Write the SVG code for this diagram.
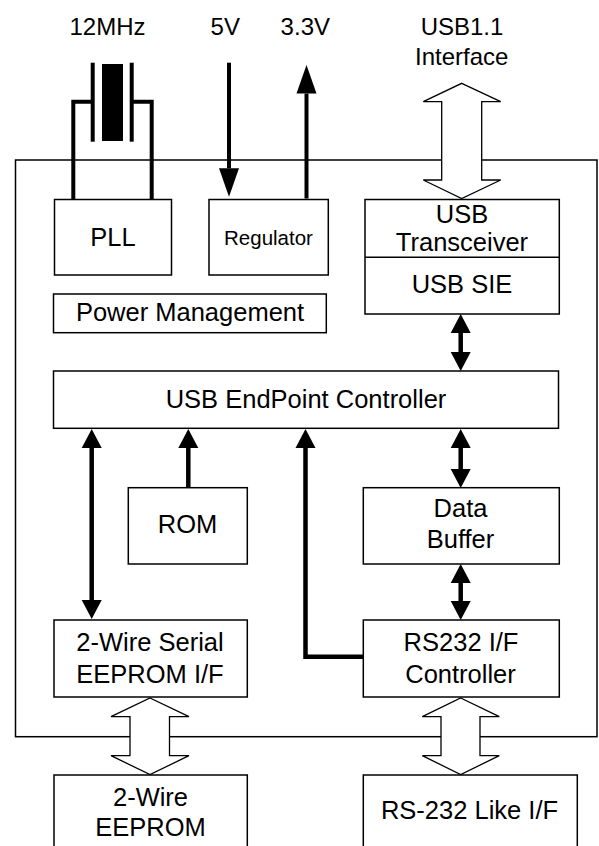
<svg xmlns="http://www.w3.org/2000/svg" width="599" height="846" viewBox="0 0 599 846">
<style>
  .box { fill: #fff; stroke: #000; stroke-width: 1.5; }
  .t { font-family: "Liberation Sans", Arial, sans-serif; font-size: 25.5px; text-anchor: middle; fill: #000; }
  .lbl { font-size: 24px; }
  .small { font-size: 20.5px; }
  .conn { fill: none; stroke: #000; stroke-width: 4.5; }
  .pwr { fill: none; stroke: #000; stroke-width: 4; }
  .hollow { fill: #fff; stroke: #000; stroke-width: 1.3; stroke-linejoin: miter; }
</style>
<defs>
  <marker id="ah" markerUnits="userSpaceOnUse" markerWidth="20" markerHeight="20" refX="0" refY="10" orient="auto-start-reverse" overflow="visible">
    <path d="M0,0 L19,10 L0,20 z" fill="#000"/>
  </marker>
  <marker id="ahBig" markerUnits="userSpaceOnUse" markerWidth="29" markerHeight="20" refX="0" refY="10" orient="auto-start-reverse" overflow="visible">
    <path d="M0,0 L28.5,10 L0,20 z" fill="#000"/>
  </marker>
</defs>
<rect width="599" height="846" fill="#fff"/>

<!-- chip frame -->
<rect id="frame" x="15.5" y="160" width="581.5" height="576.7" fill="none" stroke="#000" stroke-width="1.5"/>

<!-- top labels -->
<g id="lbl-12mhz"><text class="t lbl" x="107.5" y="35">12MHz</text></g>
<g id="lbl-5v"><text class="t lbl" x="225.3" y="35">5V</text></g>
<g id="lbl-33v"><text class="t lbl" x="305.3" y="35">3.3V</text></g>
<g id="lbl-usb11"><text class="t lbl" x="462" y="35">USB1.1</text><text class="t lbl" x="461.7" y="65">Interface</text></g>

<!-- crystal -->
<g id="crystal">
  <line class="pwr" x1="92.7" y1="62.7" x2="92.7" y2="141.7"/>
  <line class="pwr" x1="131.7" y1="62.7" x2="131.7" y2="141.7"/>
  <rect x="102" y="64" width="21" height="77" fill="#000"/>
  <polyline class="pwr" points="92.7,101.7 73.3,101.7 73.3,199.3"/>
  <polyline class="pwr" points="131.7,101.7 151.7,101.7 151.7,199.3"/>
</g>

<!-- nodes -->
<g id="pll"><rect class="box" x="54.5" y="199.5" width="117" height="75.5"/><text class="t" x="113" y="245.5">PLL</text></g>
<g id="regulator"><rect class="box" x="209" y="199.5" width="119.3" height="75.5"/><text class="t small" x="268.5" y="244.5">Regulator</text></g>
<g id="usb-transceiver-sie">
  <rect class="box" x="365" y="199.5" width="194.3" height="114.5"/>
  <line x1="365" y1="257.3" x2="559.3" y2="257.3" stroke="#000" stroke-width="1.5"/>
  <text class="t" x="462" y="222.7">USB</text>
  <text class="t" x="462" y="250.7">Transceiver</text>
  <text class="t" x="462" y="293.3">USB SIE</text>
</g>
<g id="power-management"><rect class="box" x="53.5" y="294" width="272.8" height="38.7"/><text class="t" x="190" y="320.7">Power Management</text></g>
<g id="endpoint-controller"><rect class="box" x="53.5" y="371" width="505" height="57.3"/><text class="t" x="306" y="408.3">USB EndPoint Controller</text></g>
<g id="rom"><rect class="box" x="128.3" y="487.7" width="119" height="76.3"/><text class="t" x="187.5" y="533.3">ROM</text></g>
<g id="data-buffer"><rect class="box" x="363.3" y="487.7" width="196" height="76.3"/><text class="t" x="460.5" y="517.3">Data</text><text class="t" x="460.5" y="548.3">Buffer</text></g>
<g id="eeprom-if"><rect class="box" x="54" y="620" width="193.3" height="77"/><text class="t" x="150" y="651">2-Wire Serial</text><text class="t" x="150" y="682.7">EEPROM I/F</text></g>
<g id="rs232-controller"><rect class="box" x="363.3" y="620" width="196" height="77"/><text class="t" x="461" y="651">RS232 I/F</text><text class="t" x="460.5" y="682.7">Controller</text></g>
<g id="eeprom"><rect class="box" x="54" y="775" width="193.3" height="80"/><text class="t" x="150.5" y="805.7">2-Wire</text><text class="t" x="150.5" y="835.7">EEPROM</text></g>
<g id="rs232-like"><rect class="box" x="363.3" y="775" width="214" height="80"/><text class="t" x="469.5" y="819.3">RS-232 Like I/F</text></g>

<!-- connectors -->
<g id="connectors">
  <line class="pwr" x1="229" y1="62.7" x2="229" y2="168.3" marker-end="url(#ahBig)"/>
  <line class="pwr" x1="306.5" y1="198.5" x2="306.5" y2="93.5" marker-end="url(#ahBig)"/>
  <polygon class="hollow" points="461.7,83.3 500.7,101.7 481.7,101.7 481.7,180 500.7,180 461.7,198.5 423.3,180 441.7,180 441.7,101.7 423.3,101.7"/>
  <line class="conn" x1="460.7" y1="333" x2="460.7" y2="352" marker-start="url(#ah)" marker-end="url(#ah)"/>
  <line class="conn" x1="91.7" y1="448" x2="91.7" y2="600" marker-start="url(#ah)" marker-end="url(#ah)"/>
  <line class="conn" x1="188.3" y1="488" x2="188.3" y2="448" marker-end="url(#ah)"/>
  <polyline class="conn" points="363.3,656.7 305.5,656.7 305.5,448" marker-end="url(#ah)"/>
  <line class="conn" x1="460.7" y1="448" x2="460.7" y2="469" marker-start="url(#ah)" marker-end="url(#ah)"/>
  <line class="conn" x1="460.7" y1="583" x2="460.7" y2="601" marker-start="url(#ah)" marker-end="url(#ah)"/>
  <polygon class="hollow" points="150,698 189,716.7 169.5,716.7 169.5,755.7 189,755.7 150,774.5 111,755.7 130,755.7 130,716.7 111,716.7"/>
  <polygon class="hollow" points="460.7,698 499.3,716.7 480,716.7 480,755.7 499.3,755.7 460.7,774.5 422.3,755.7 441,755.7 441,716.7 422.3,716.7"/>
</g>
</svg>
